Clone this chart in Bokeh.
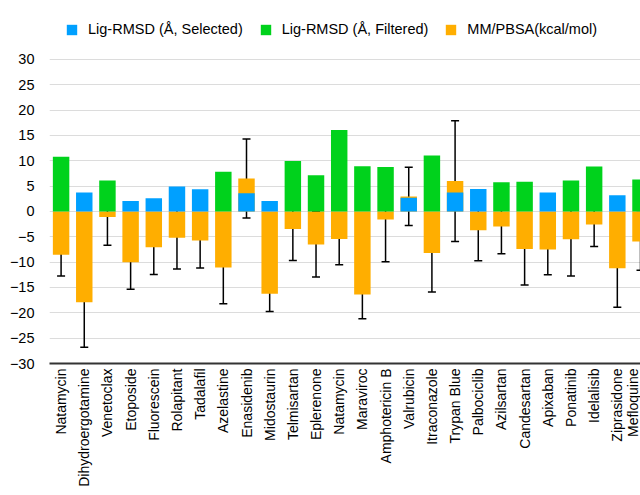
import math
from bokeh.plotting import figure
from bokeh.models import (ColumnDataSource, FixedTicker, Whisker, TeeHead, Legend, LegendItem)
from bokeh.embed import file_html
from bokeh.resources import INLINE

categories = ["Natamycin", "Dihydroergotamine", "Venetoclax", "Etoposide", "Fluorescein",
              "Rolapitant", "Tadalafil", "Azelastine", "Enasidenib", "Midostaurin",
              "Telmisartan", "Eplerenone", "Natamycin", "Maraviroc", "Amphotericin B",
              "Valrubicin", "Itraconazole", "Trypan Blue", "Palbociclib", "Azilsartan",
              "Candesartan", "Apixaban", "Ponatinib", "Idelalisib", "Ziprasidone", "Mefloquine"]

nan = float("nan")
rmsd_selected = [nan, 3.75, nan, 2.05, 2.6, 4.95, 4.4, nan, 3.6, 2.05,
                 nan, nan, nan, nan, nan, 2.7, nan, 3.75, 4.45, nan,
                 nan, 3.75, nan, nan, 3.2, nan]
rmsd_filtered = [10.8, nan, 6.1, nan, nan, nan, nan, 7.85, nan, nan,
                 9.95, 7.15, 16.1, 8.95, 8.8, nan, 11.05, nan, nan, 5.75,
                 5.85, nan, 6.1, 8.9, nan, 6.3]
mmpbsa = [-8.55, -17.9, -1.1, -10.0, -7.05, -5.2, -5.7, -11.05, 6.5, -16.25,
          -3.45, -6.5, -5.45, -16.4, -1.6, 2.97, -8.2, 6.0, -3.7, -2.95,
          -7.4, -7.5, -5.5, -2.55, -11.2, -5.9]
mmpbsa_err = [4.2, 8.9, 5.55, 5.35, 5.4, 6.15, 5.45, 7.15, 7.8, 3.5,
              6.2, 6.45, 5.05, 4.75, 8.3, 5.75, 7.7, 11.9, 6.0, 5.4,
              7.1, 5.0, 7.25, 4.35, 7.7, 5.7]
y_ticks = [-30, -25, -20, -15, -10, -5, 0, 5, 10, 15, 20, 25, 30]

BLUE = "#00A0FF"
GREEN = "#00D21C"
ORANGE = "#FFAE00"

x = list(range(len(categories)))
src = ColumnDataSource(dict(
    x=x, sel=rmsd_selected, fil=rmsd_filtered, mm=mmpbsa,
    upper=[m + e for m, e in zip(mmpbsa, mmpbsa_err)],
    lower=[m - e for m, e in zip(mmpbsa, mmpbsa_err)],
))

p = figure(width=640, height=495, output_backend="svg", toolbar_location=None,
           x_range=(-0.5, 25.0), y_range=(-30, 39.67),
           min_border_left=49, min_border_right=0, min_border_top=10, min_border_bottom=132)
p.outline_line_color = None
p.background_fill_color = "white"
p.border_fill_color = "white"

bw = 0.71
r_mm = p.vbar(x="x", top="mm", bottom=0, width=bw, source=src, fill_color=ORANGE, line_color=None)
r_sel = p.vbar(x="x", top="sel", bottom=0, width=bw, source=src, fill_color=BLUE, line_color=None)
r_fil = p.vbar(x="x", top="fil", bottom=0, width=bw, source=src, fill_color=GREEN, line_color=None)

wh = Whisker(base="x", upper="upper", lower="lower", source=src, dimension="height",
             line_color="black", line_width=1.5,
             upper_head=TeeHead(size=8, line_color="black", line_width=1.5),
             lower_head=TeeHead(size=8, line_color="black", line_width=1.5))
p.add_layout(wh)

# axes
p.xaxis.ticker = FixedTicker(ticks=x)
p.xaxis.major_label_overrides = {i: c for i, c in enumerate(categories)}
p.xaxis.major_label_orientation = math.pi / 2
p.xaxis.major_label_text_font = "Liberation Sans"
p.xaxis.major_label_text_font_size = "14px"
p.xaxis.major_label_text_color = "black"
p.xaxis.major_label_standoff = 5
p.xaxis.major_tick_line_color = None
p.xaxis.major_tick_out = 0
p.xaxis.major_tick_in = 0
p.xaxis.minor_tick_line_color = None
p.xaxis.axis_line_color = "#333333"
p.xaxis.axis_line_width = 2

p.yaxis.ticker = FixedTicker(ticks=y_ticks)
p.yaxis.major_label_text_font = "Liberation Sans"
p.yaxis.major_label_text_font_size = "14.5px"
p.yaxis.major_label_text_color = "black"
p.yaxis.major_label_standoff = 15
p.yaxis.major_tick_line_color = None
p.yaxis.major_tick_out = 0
p.yaxis.minor_tick_line_color = None
p.yaxis.axis_line_color = None

p.xgrid.grid_line_color = None
p.ygrid.grid_line_color = "#dcdcdc"
p.ygrid.grid_line_width = 1.2

legend = Legend(items=[
    LegendItem(label="Lig-RMSD (Å, Selected)", renderers=[r_sel]),
    LegendItem(label="Lig-RMSD (Å, Filtered)", renderers=[r_fil]),
    LegendItem(label="MM/PBSA(kcal/mol)", renderers=[r_mm]),
], orientation="horizontal", location=(16, 326))
legend.glyph_width = 13
legend.glyph_height = 13
legend.label_standoff = 10
legend.spacing = 16
legend.padding = 0
legend.margin = 0
legend.border_line_color = None
legend.background_fill_alpha = 0
legend.label_text_font = "Liberation Sans"
legend.label_text_font_size = "14.5px"
legend.label_text_color = "black"
p.add_layout(legend, "center")

open("out.html", "w").write(file_html(p, INLINE))
